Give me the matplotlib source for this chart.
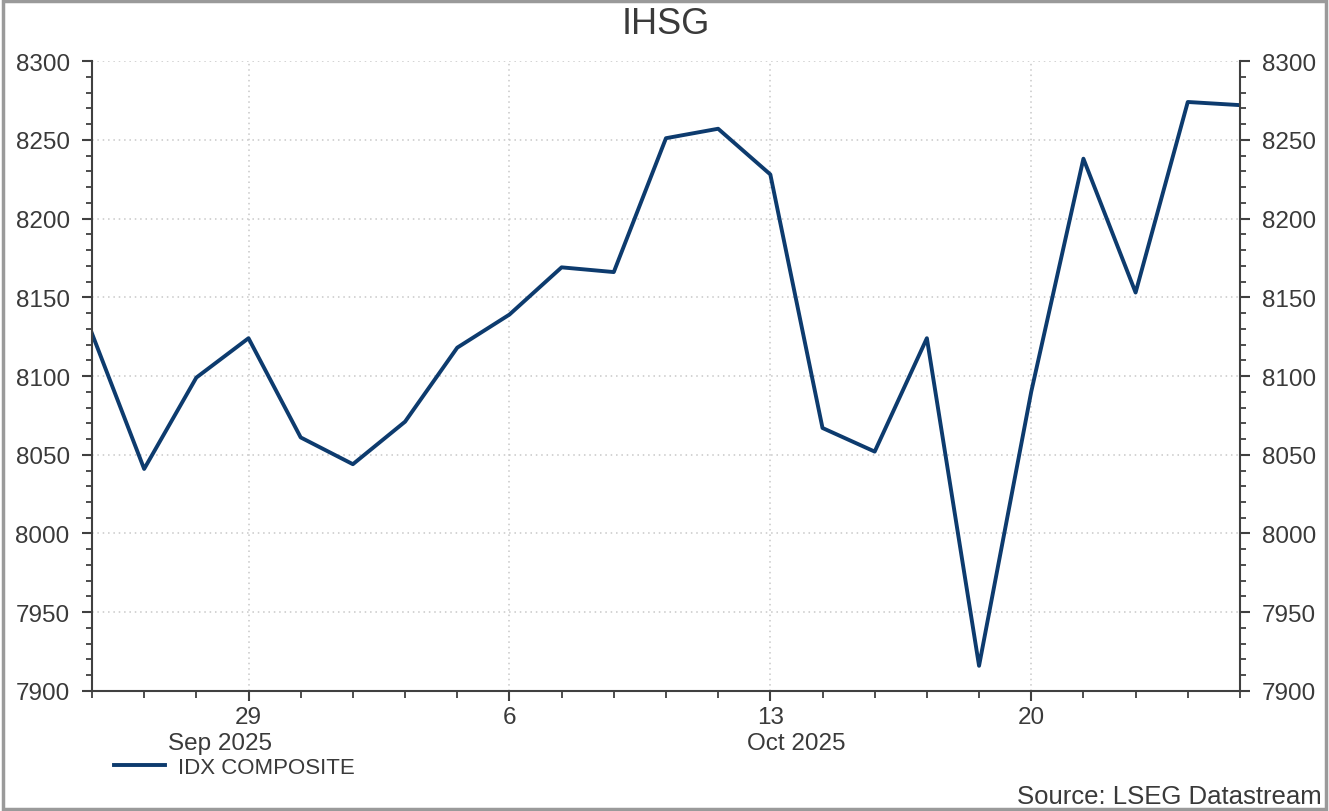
import matplotlib.pyplot as plt
from matplotlib.patches import Rectangle
from matplotlib.ticker import MultipleLocator, FixedLocator

plt.rcParams['font.family'] = ['Liberation Sans', 'DejaVu Sans']

# business days Sep 24 .. Oct 24 2025
days = ['24', '25', '26', '29', '30', '1', '2', '3', '6', '7', '8', '9', '10',
        '13', '14', '15', '16', '17', '20', '21', '22', '23', '24']
ihsg = [8127, 8041, 8099, 8124, 8061, 8044, 8071, 8118, 8139, 8169, 8166, 8251,
        8257, 8228, 8067, 8052, 8124, 7916, 8090, 8238, 8153, 8274, 8272]
major_days = ['29', '6', '13', '20']
months = ['Sep 2025', 'Oct 2025']
month_pos = [2.45, 13.5]

x = list(range(len(days)))
major_idx = [3, 8, 13, 18]

fig = plt.figure(figsize=(13.29, 8.12), dpi=100)
ax = fig.add_axes([0.0692, 0.1478, 0.8638, 0.7758])

ax.plot(x, ihsg, color='#0d3b6e', linewidth=2.8, label='IDX COMPOSITE')

ax.set_xlim(0, len(days) - 1)
ax.set_ylim(7900, 8300)
ax.yaxis.set_major_locator(MultipleLocator(50))
ax.yaxis.set_minor_locator(MultipleLocator(10))
ax.xaxis.set_major_locator(FixedLocator(major_idx))
ax.xaxis.set_minor_locator(FixedLocator(x))
ax.set_xticklabels(major_days)

ax.grid(True, which='major', color='#c8c8c8', linestyle=(0, (1, 2.5)), linewidth=1.1)

ax.spines['top'].set_visible(False)
for s in ['left', 'bottom', 'right']:
    ax.spines[s].set_color('#404040')
    ax.spines[s].set_linewidth(1.5)

tc = '#3a3a3a'
fs = 17.5
ax.tick_params(axis='y', which='major', length=7, width=1.5, color='#404040',
               labelsize=fs, labelcolor=tc, pad=9, left=True, right=True,
               labelleft=True, labelright=True)
ax.tick_params(axis='y', which='minor', length=4, width=1.3, color='#404040',
               left=True, right=True)
ax.tick_params(axis='x', which='major', length=7, width=1.5, color='#404040',
               labelsize=fs, labelcolor=tc, pad=4)
ax.tick_params(axis='x', which='minor', length=5, width=1.3, color='#404040')

for m, p in zip(months, month_pos):
    ax.text(p, -0.083, m, transform=ax.get_xaxis_transform(), ha='center',
            va='center', fontsize=fs, color=tc)

ax.set_title('IHSG', fontsize=26, color='#3a3a3a', pad=20)

fig.legend(loc='center left', bbox_to_anchor=(0.071, 0.054), frameon=False,
           fontsize=16, handlelength=2.3, handletextpad=0.55, labelcolor=tc)

fig.text(0.9945, 0.019, 'Source: LSEG Datastream', ha='right', va='center',
         fontsize=18.5, color=tc)

fig.patches.append(Rectangle((0.002, 0.002), 0.996, 0.996, transform=fig.transFigure,
                             fill=False, edgecolor='#9a9a9a', linewidth=2.5))

fig.savefig('out.png', dpi=100)
